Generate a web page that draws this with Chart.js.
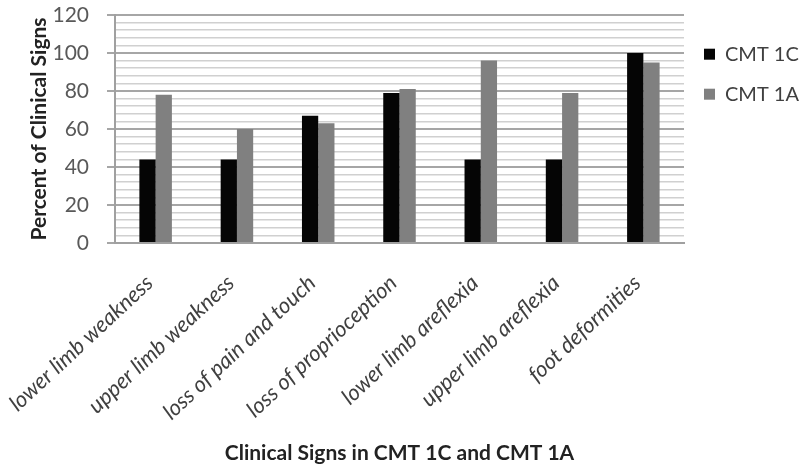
<!DOCTYPE html>
<html lang="en">
<head>
    <meta charset="UTF-8">
    <title>Clinical Signs in CMT 1C and CMT 1A</title>
    <script src="https://cdn.jsdelivr.net/npm/chart.js"></script>
    <style>
        html, body {
            margin: 0;
            padding: 0;
            background: #fff;
        }
        #wrap {
            width: 801px;
            height: 468px;
        }
    </style>
</head>
<body>
    <div id="wrap"><canvas id="signsChart"></canvas></div>

    <script>
        // data
        const categories = ['lower limb weakness', 'upper limb weakness', 'loss of pain and touch',
                            'loss of proprioception', 'lower limb areflexia', 'upper limb areflexia', 'foot deformities'];
        const cmt1c = [44, 44, 67, 79, 44, 44, 100];
        const cmt1a = [78, 60, 63, 81, 96, 79, 95];
        const yMax = 120;
        const majorStep = 20;
        const minorStep = 4;

        const fontName = 'Lato, "Open Sans", sans-serif';

        const ctx = document.getElementById('signsChart').getContext('2d');
        const signsChart = new Chart(ctx, {
            type: 'bar',
            data: {
                labels: categories,
                datasets: [{
                    label: 'CMT 1C',
                    data: cmt1c,
                    backgroundColor: '#050505',
                    categoryPercentage: 0.4,
                    barPercentage: 1.0
                }, {
                    label: 'CMT 1A',
                    data: cmt1a,
                    backgroundColor: '#808080',
                    categoryPercentage: 0.4,
                    barPercentage: 1.0
                }]
            },
            options: {
                responsive: true,
                maintainAspectRatio: false,
                animation: false,
                layout: {
                    padding: { left: 21, right: -8, top: 15, bottom: 2 }
                },
                plugins: {
                    legend: {
                        position: 'right',
                        align: 'start',
                        title: {
                            display: true,
                            text: '',
                            font: { size: 6 },
                            padding: { top: 2, bottom: 0 }
                        },
                        labels: {
                            boxWidth: 11,
                            boxHeight: 11,
                            padding: 20,
                            color: '#404040',
                            font: { family: fontName, size: 20 }
                        }
                    },
                    tooltip: { enabled: false }
                },
                scales: {
                    x: {
                        grid: { display: false, drawTicks: false },
                        border: { display: true, color: '#a0a0a0', width: 2 },
                        ticks: {
                            minRotation: 43,
                            maxRotation: 43,
                            autoSkip: false,
                            padding: 27,
                            labelOffset: -6,
                            color: '#404040',
                            font: { family: fontName, size: 22, style: 'italic' }
                        },
                        title: {
                            display: true,
                            text: 'Clinical Signs in CMT 1C and CMT 1A',
                            color: '#222',
                            font: { family: fontName, size: 21, weight: 'bold' },
                            padding: { top: 0, bottom: 0 }
                        },
                        afterFit: function (scale) {
                            scale.height = 468 - 243 - 2;
                            scale.paddingLeft = 0;
                            scale.paddingRight = 0;
                        }
                    },
                    y: {
                        min: 0,
                        max: yMax,
                        border: { display: true, color: '#a0a0a0', width: 2 },
                        grid: {
                            color: function (c) {
                                return c.tick.value % majorStep === 0 ? '#a6a6a6' : '#d0d0d0';
                            },
                            lineWidth: function (c) {
                                return c.tick.value % majorStep === 0 ? 2 : 1.5;
                            },
                            tickColor: function (c) {
                                return c.tick.value % majorStep === 0 ? '#a6a6a6' : 'rgba(0,0,0,0)';
                            },
                            tickLength: 8
                        },
                        ticks: {
                            stepSize: minorStep,
                            autoSkip: false,
                            padding: 18,
                            color: '#595959',
                            font: { family: fontName, size: 21 },
                            callback: function (value) {
                                return value % majorStep === 0 ? value : '';
                            }
                        },
                        title: {
                            display: true,
                            text: 'Percent of Clinical Signs',
                            color: '#222',
                            font: { family: fontName, size: 21, weight: 'bold' },
                            padding: { top: 6, bottom: 0 }
                        },
                        afterFit: function (scale) {
                            scale.width = 115 - 21;
                            scale.paddingTop = 0;
                            scale.paddingBottom = 0;
                        }
                    }
                }
            }
        });
    </script>
</body>
</html>
